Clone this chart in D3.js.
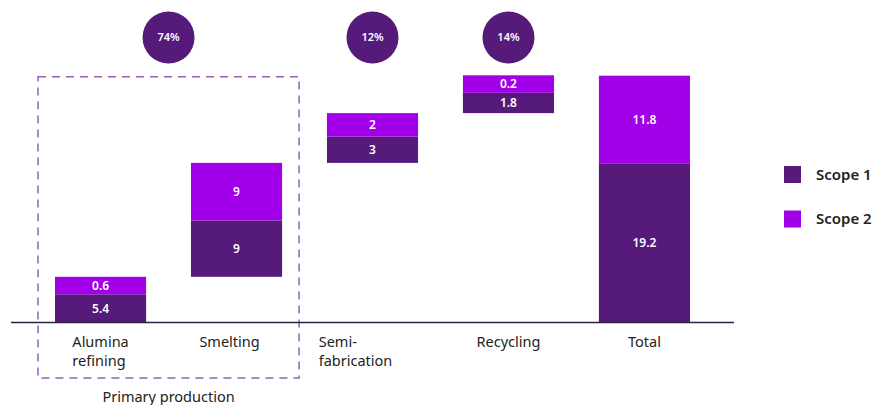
<!DOCTYPE html>
<html>
<head>
<meta charset="utf-8">
<script src="https://cdn.jsdelivr.net/npm/d3@7"></script>
<style>
  body { margin: 0; background: #fff; }
  text { font-family: "Noto Sans", "Open Sans", sans-serif; }
</style>
</head>
<body>
<div id="chart"></div>
<script>
//************* data ***************/
var categories = ["Alumina refining", "Smelting", "Semi-fabrication", "Recycling", "Total"];
var categoryLines = [["Alumina", "refining"], ["Smelting"], ["Semi-", "fabrication"], ["Recycling"], ["Total"]];

// value labels printed in the segments
var scope1Labels = ["5.4", "9", "3", "1.8", "19.2"];
var scope2Labels = ["0.6", "9", "2", "0.2", "11.8"];

// segment heights as drawn in the picture (same units, total = 31)
var scope1Drawn = [3.54, 7.07, 3.3, 2.55, 19.93];
var scope2Drawn = [2.2, 7.24, 2.95, 2.2, 11.07];

var shareLabels = ["74%", "12%", "14%"];
var seriesNames = ["Scope 1", "Scope 2"];
var colors = ["#561a7a", "#a100e8"];

//************* set dimensions ***************/
var width = 875, height = 405;
var baseY = 322.5;
// small horizontal nudges of the category labels, as in the original layout
var labelShift = [0, -7, -17, 0, 0];

var svg = d3.select("#chart")
  .append("svg")
    .attr("width", width)
    .attr("height", height);

//************* scales ***************/
var x = d3.scaleBand()
  .domain(categories)
  .range([55, 690])
  .paddingInner(0.33)
  .paddingOuter(0);

var y = d3.scaleLinear()
  .domain([0, 31])
  .range([baseY, 75.7]);

//************* waterfall rows ***************/
var rows = [];
var running = 0;
categories.forEach(function(c, i) {
  var start = (i == categories.length - 1) ? 0 : running;
  rows.push({cat: c, key: 0, y0: start, y1: start + scope1Drawn[i], label: scope1Labels[i]});
  rows.push({cat: c, key: 1, y0: start + scope1Drawn[i], y1: start + scope1Drawn[i] + scope2Drawn[i], label: scope2Labels[i]});
  running = start + scope1Drawn[i] + scope2Drawn[i];
});

//************* dashed box for primary production ***************/
var boxLeft = x(categories[0]) - 17,
    boxRight = x(categories[1]) + x.bandwidth() + 17;
svg.append("rect")
  .attr("x", boxLeft)
  .attr("y", y(31) + 1)
  .attr("width", boxRight - boxLeft)
  .attr("height", 378 - y(31) - 1)
  .attr("fill", "none")
  .attr("stroke", "#9360be")
  .attr("stroke-width", 1.5)
  .attr("stroke-dasharray", "8,6");

//************* bars ***************/
svg.selectAll("rect.seg")
  .data(rows)
  .enter()
  .append("rect")
    .attr("class", "seg")
    .attr("x", d => x(d.cat))
    .attr("y", d => y(d.y1))
    .attr("width", x.bandwidth())
    .attr("height", d => y(d.y0) - y(d.y1))
    .attr("fill", d => colors[d.key]);

svg.selectAll("text.seg")
  .data(rows)
  .enter()
  .append("text")
    .attr("class", "seg")
    .attr("x", d => x(d.cat) + x.bandwidth() / 2)
    .attr("y", d => (y(d.y0) + y(d.y1)) / 2)
    .attr("dy", "0.35em")
    .attr("text-anchor", "middle")
    .attr("font-size", "12px")
    .attr("font-weight", 600)
    .attr("fill", "#fff")
    .text(d => d.label);

//************* baseline ***************/
svg.append("line")
  .attr("x1", 11)
  .attr("x2", 734)
  .attr("y1", baseY)
  .attr("y2", baseY)
  .attr("stroke", "#2b2140")
  .attr("stroke-width", 1.5);

//************* category labels ***************/
categoryLines.forEach(function(lines, i) {
  var g = svg.append("text")
    .attr("font-size", "14.5px")
    .attr("fill", "#222");
  lines.forEach(function(l, j) {
    g.append("tspan")
      .attr("x", 0)
      .attr("y", 347 + j * 19)
      .text(l);
  });
  var w = g.node().getBBox().width;
  var cx = x(categories[i]) + x.bandwidth() / 2 + labelShift[i];
  g.attr("transform", "translate(" + (cx - w / 2) + ",0)");
});

svg.append("text")
  .attr("x", (boxLeft + boxRight) / 2)
  .attr("y", 402)
  .attr("text-anchor", "middle")
  .attr("font-size", "14.5px")
  .attr("fill", "#222")
  .text("Primary production");

//************* share circles ***************/
var circleX = [(boxLeft + boxRight) / 2,
               x(categories[2]) + x.bandwidth() / 2,
               x(categories[3]) + x.bandwidth() / 2];
shareLabels.forEach(function(s, i) {
  svg.append("circle")
    .attr("cx", circleX[i])
    .attr("cy", 37.5)
    .attr("r", 26)
    .attr("fill", colors[0]);
  svg.append("text")
    .attr("x", circleX[i])
    .attr("y", 37.5)
    .attr("dy", "0.35em")
    .attr("text-anchor", "middle")
    .attr("font-size", "11px")
    .attr("font-weight", 600)
    .attr("fill", "#fff")
    .text(s);
});

//************* legend ***************/
var legend = svg.append("g")
  .attr("transform", "translate(784, 166)");
seriesNames.forEach(function(n, i) {
  var row = legend.append("g")
    .attr("transform", "translate(0," + (i * 44.5) + ")");
  row.append("rect")
    .attr("width", 17)
    .attr("height", 17)
    .attr("fill", colors[i]);
  row.append("text")
    .attr("x", 32)
    .attr("y", 8.5)
    .attr("dy", "0.35em")
    .attr("font-size", "15px")
    .attr("font-weight", 600)
    .attr("fill", "#222")
    .text(n);
});
</script>
</body>
</html>
